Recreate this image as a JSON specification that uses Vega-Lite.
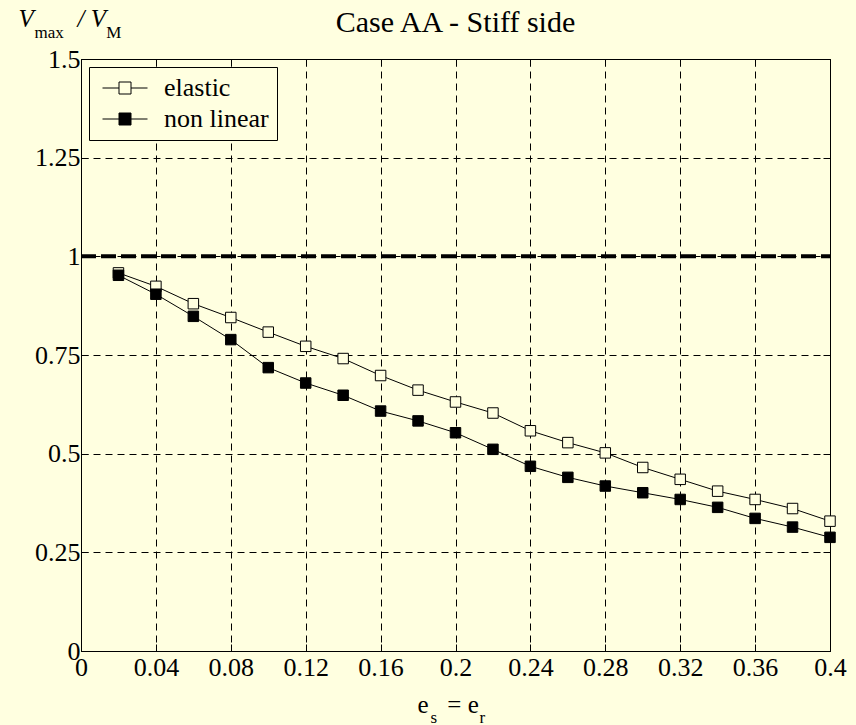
{
  "$schema": "https://vega.github.io/schema/vega-lite/v6.json",
  "width": 749,
  "height": 592,
  "autosize": {"type": "none"},
  "padding": {"left": 81, "top": 59, "right": 26, "bottom": 74},
  "background": "#FFFFE0",
  "title": {"text": "Case AA - Stiff side", "font": "Liberation Serif", "fontSize": 30, "fontWeight": "normal", "color": "#000000", "anchor": "middle", "baseline": "alphabetic", "offset": 0, "dy": 56},
  "config": {
    "view": {"stroke": "#000000", "strokeWidth": 1, "fill": "#FFFFE0"},
    "axis": {"labelFont": "Liberation Serif", "labelFontSize": 26, "labelColor": "#000000", "titleFont": "Liberation Serif", "titleColor": "#000000", "titleFontWeight": "normal", "tickColor": "#000000", "tickSize": -7, "tickWidth": 1, "domain": false, "labelFlush": false, "labelOverlap": false, "gridColor": "#000000", "gridDash": [7, 5], "gridWidth": 1, "gridOpacity": 1}
  },
  "layer": [
    {
      "data": {"values": [
        {"x": 0.02, "v": 0.958, "series": "elastic"},
        {"x": 0.04, "v": 0.924, "series": "elastic"},
        {"x": 0.06, "v": 0.880, "series": "elastic"},
        {"x": 0.08, "v": 0.845, "series": "elastic"},
        {"x": 0.10, "v": 0.808, "series": "elastic"},
        {"x": 0.12, "v": 0.772, "series": "elastic"},
        {"x": 0.14, "v": 0.741, "series": "elastic"},
        {"x": 0.16, "v": 0.698, "series": "elastic"},
        {"x": 0.18, "v": 0.661, "series": "elastic"},
        {"x": 0.20, "v": 0.631, "series": "elastic"},
        {"x": 0.22, "v": 0.603, "series": "elastic"},
        {"x": 0.24, "v": 0.558, "series": "elastic"},
        {"x": 0.26, "v": 0.528, "series": "elastic"},
        {"x": 0.28, "v": 0.502, "series": "elastic"},
        {"x": 0.30, "v": 0.465, "series": "elastic"},
        {"x": 0.32, "v": 0.435, "series": "elastic"},
        {"x": 0.34, "v": 0.405, "series": "elastic"},
        {"x": 0.36, "v": 0.384, "series": "elastic"},
        {"x": 0.38, "v": 0.361, "series": "elastic"},
        {"x": 0.40, "v": 0.329, "series": "elastic"},
        {"x": 0.02, "v": 0.952, "series": "non linear"},
        {"x": 0.04, "v": 0.904, "series": "non linear"},
        {"x": 0.06, "v": 0.848, "series": "non linear"},
        {"x": 0.08, "v": 0.789, "series": "non linear"},
        {"x": 0.10, "v": 0.718, "series": "non linear"},
        {"x": 0.12, "v": 0.679, "series": "non linear"},
        {"x": 0.14, "v": 0.648, "series": "non linear"},
        {"x": 0.16, "v": 0.608, "series": "non linear"},
        {"x": 0.18, "v": 0.583, "series": "non linear"},
        {"x": 0.20, "v": 0.553, "series": "non linear"},
        {"x": 0.22, "v": 0.511, "series": "non linear"},
        {"x": 0.24, "v": 0.468, "series": "non linear"},
        {"x": 0.26, "v": 0.440, "series": "non linear"},
        {"x": 0.28, "v": 0.418, "series": "non linear"},
        {"x": 0.30, "v": 0.401, "series": "non linear"},
        {"x": 0.32, "v": 0.384, "series": "non linear"},
        {"x": 0.34, "v": 0.364, "series": "non linear"},
        {"x": 0.36, "v": 0.336, "series": "non linear"},
        {"x": 0.38, "v": 0.314, "series": "non linear"},
        {"x": 0.40, "v": 0.288, "series": "non linear"}
      ]},
      "encoding": {
        "x": {"field": "x", "type": "quantitative", "scale": {"domain": [0, 0.4], "nice": false, "zero": false},
          "axis": {"orient": "bottom", "values": [0, 0.04, 0.08, 0.12, 0.16, 0.2, 0.24, 0.28, 0.32, 0.36, 0.4], "format": ".3~g", "grid": true, "labelPadding": 10,
            "title": "e\u00a0\u00a0\u00a0=\u00a0e", "titleFontSize": 25, "titleX": 336, "titleY": 61, "titleAlign": "left", "titleBaseline": "alphabetic", "titleAngle": 0}},
        "y": {"field": "v", "type": "quantitative", "scale": {"domain": [0, 1.5], "nice": false, "zero": false},
          "axis": {"orient": "left", "values": [0, 0.25, 0.5, 0.75, 1, 1.25, 1.5], "format": ".3~g", "grid": true, "labelPadding": 8,
            "title": "V\u00a0\u00a0\u00a0\u00a0\u00a0\u00a0\u00a0/\u00a0V", "titleFontSize": 25, "titleFontStyle": "italic", "titleAngle": 0, "titleX": -63, "titleY": -33, "titleAlign": "left", "titleBaseline": "alphabetic"}}
      },
      "layer": [
        {"mark": {"type": "line", "color": "#000000", "strokeWidth": 1}, "encoding": {"detail": {"field": "series", "type": "nominal"}}},
        {"mark": {"type": "point", "shape": "square", "filled": true, "size": 110, "stroke": "#000000", "strokeWidth": 1, "opacity": 1},
          "encoding": {"fill": {"field": "series", "type": "nominal", "scale": {"domain": ["elastic", "non linear"], "range": ["#FFFFE0", "#000000"]},
            "legend": {"title": null, "orient": "none", "legendX": 8, "legendY": 8, "symbolType": "M-2.25,0H-0.6M0.6,0H2.25M-0.6,-0.6H0.6V0.6H-0.6Z", "symbolSize": 400, "symbolOffset": 15, "symbolStrokeColor": "#000000", "symbolStrokeWidth": 1, "symbolOpacity": 1, "labelFont": "Liberation Serif", "labelFontSize": 26, "labelColor": "#000000", "labelOffset": 26, "labelExpr": "datum.label + '\u00a0\u00a0\u00a0\u00a0'", "strokeColor": "#000000", "fillColor": "#FFFFE0", "padding": 8, "rowPadding": 5}}}}
      ]
    },
    {
      "data": {"values": [{"ref": 1}]},
      "mark": {"type": "rule", "color": "#000000", "strokeWidth": 4, "strokeDash": [15, 5]},
      "encoding": {
        "x": {"datum": 0, "type": "quantitative", "scale": {"domain": [0, 0.4], "nice": false, "zero": false},
          "axis": {"orient": "top", "values": [0, 0.04, 0.08, 0.12, 0.16, 0.2, 0.24, 0.28, 0.32, 0.36, 0.4], "labels": false, "grid": false,
            "title": "s\u00a0\u00a0\u00a0\u00a0\u00a0\u00a0\u00a0\u00a0\u00a0\u00a0r", "titleFontSize": 17, "titleX": 349, "titleY": 663, "titleAlign": "left", "titleBaseline": "alphabetic", "titleAngle": 0}},
        "x2": {"datum": 0.4},
        "y": {"field": "ref", "type": "quantitative", "scale": {"domain": [0, 1.5], "nice": false, "zero": false},
          "axis": {"orient": "right", "values": [0, 0.25, 0.5, 0.75, 1, 1.25, 1.5], "labels": false, "grid": false,
            "title": "max\u00a0\u00a0\u00a0\u00a0\u00a0\u00a0\u00a0\u00a0\u00a0\u00a0M", "titleFontSize": 17, "titleAngle": 0, "titleX": -796, "titleY": -22, "titleAlign": "left", "titleBaseline": "alphabetic"}}
      }
    }
  ],
  "resolve": {"scale": {"x": "independent", "y": "independent"}}
}
